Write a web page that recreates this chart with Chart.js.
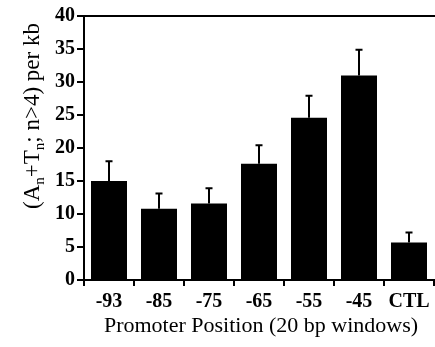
<!DOCTYPE html>
<html>
<head>
<meta charset="utf-8">
<script src="https://cdn.jsdelivr.net/npm/chart.js@4/dist/chart.umd.min.js"></script>
<style>
  html, body { margin: 0; padding: 0; background: #fff; }
  canvas { display: block; }
</style>
</head>
<body>
<canvas id="chart" width="435" height="347"></canvas>
<script>
// Promoter windows and homopolymer-tract density per kb
const positions = ['-93', '-85', '-75', '-65', '-55', '-45', 'CTL'];
const density = [15.0, 10.8, 11.6, 17.6, 24.6, 31.0, 5.7];
const densityErr = [3.0, 2.3, 2.3, 2.8, 3.3, 3.9, 1.5];
const yTicks = [0, 5, 10, 15, 20, 25, 30, 35, 40];

const xTitle = 'Promoter Position (20 bp windows)';
// y title pieces: [text, isSubscript]
const yTitleParts = [['(A', false], ['n', true], ['+T', false], ['n', true], ['; n>4) per kb', false]];

const serif = '"Liberation Serif", "Times New Roman", serif';

// Upper error whiskers with a small cap
const errorBars = {
  id: 'errorBars',
  afterDatasetsDraw(chart) {
    const { ctx } = chart;
    const y = chart.scales.y;
    const meta = chart.getDatasetMeta(0);
    ctx.save();
    ctx.strokeStyle = '#000';
    ctx.lineWidth = 2;
    meta.data.forEach((bar, i) => {
      const yTop = y.getPixelForValue(density[i] + densityErr[i]);
      const yBar = y.getPixelForValue(density[i]);
      ctx.beginPath();
      ctx.moveTo(bar.x, yBar);
      ctx.lineTo(bar.x, yTop);
      ctx.moveTo(bar.x - 3.5, yTop);
      ctx.lineTo(bar.x + 3.5, yTop);
      ctx.stroke();
    });
    ctx.restore();
  }
};

// Top frame line and the two axis titles
const frameAndTitles = {
  id: 'frameAndTitles',
  afterDraw(chart) {
    const { ctx, chartArea } = chart;
    ctx.save();
    ctx.strokeStyle = '#000';
    ctx.lineWidth = 2;
    ctx.beginPath();
    ctx.moveTo(chartArea.left - 1, chartArea.top);
    ctx.lineTo(chart.width, chartArea.top);
    ctx.stroke();

    ctx.fillStyle = '#000';
    // x title
    ctx.font = '22px ' + serif;
    ctx.textAlign = 'center';
    ctx.textBaseline = 'alphabetic';
    ctx.fillText(xTitle, 261, 332);

    // y title, rotated, with subscripts
    const mainFont = '23px ' + serif;
    const subFont = '15px ' + serif;
    let total = 0;
    yTitleParts.forEach(([t, sub]) => {
      ctx.font = sub ? subFont : mainFont;
      total += ctx.measureText(t).width;
    });
    ctx.translate(39, 116);
    ctx.rotate(-Math.PI / 2);
    ctx.textAlign = 'left';
    let x = -total / 2;
    yTitleParts.forEach(([t, sub]) => {
      ctx.font = sub ? subFont : mainFont;
      ctx.fillText(t, x, sub ? 5 : 0);
      x += ctx.measureText(t).width;
    });
    ctx.restore();
  }
};

new Chart(document.getElementById('chart'), {
  type: 'bar',
  data: {
    labels: positions,
    datasets: [{
      data: density,
      backgroundColor: '#000',
      borderWidth: 0,
      categoryPercentage: 1.0,
      barPercentage: 0.72
    }]
  },
  options: {
    responsive: false,
    animation: false,
    devicePixelRatio: 1,
    layout: { padding: { top: 16, right: 1, left: 0, bottom: 0 } },
    plugins: { legend: { display: false }, tooltip: { enabled: false } },
    scales: {
      x: {
        offset: true,
        grid: {
          offset: true,
          drawOnChartArea: false,
          drawTicks: true,
          tickLength: 6,
          color: '#000',
          lineWidth: 2
        },
        border: { display: true, color: '#000', width: 2 },
        ticks: {
          color: '#000',
          padding: 4,
          maxRotation: 0,
          font: { family: serif, size: 20, weight: 'bold' }
        },
        afterFit(scale) { scale.height = 67; }
      },
      y: {
        min: 0,
        max: 40,
        afterBuildTicks(scale) { scale.ticks = yTicks.map(v => ({ value: v })); },
        grid: {
          drawOnChartArea: false,
          drawTicks: true,
          tickLength: 7,
          color: '#000',
          lineWidth: 2
        },
        border: { display: true, color: '#000', width: 2 },
        ticks: {
          color: '#000',
          padding: 2,
          font: { family: serif, size: 20, weight: 'bold' }
        },
        afterFit(scale) { scale.width = 84; }
      }
    }
  },
  plugins: [errorBars, frameAndTitles]
});
</script>
</body>
</html>
